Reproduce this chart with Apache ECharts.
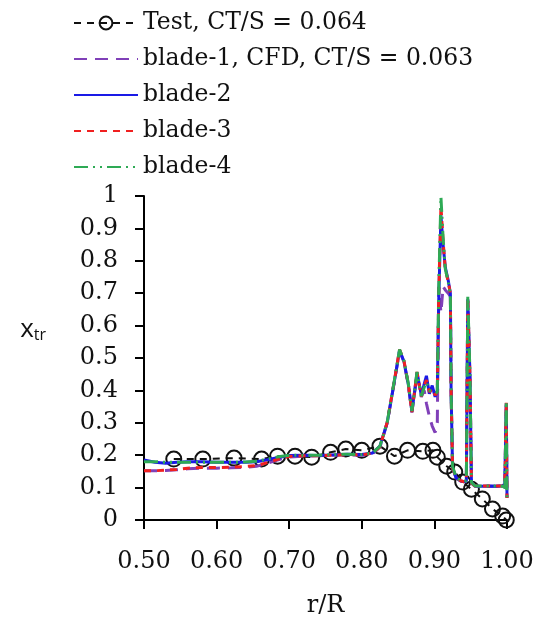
<!DOCTYPE html>
<html>
<head>
<meta charset="utf-8">
<script src="https://cdn.jsdelivr.net/npm/echarts@6/dist/echarts.min.js"></script>
<style>
  html, body { margin: 0; padding: 0; background: #fff; }
  #chart { width: 537px; height: 623px; }
</style>
</head>
<body>
<div id="chart"></div>
<script>
// test data (circles)
var rTest = [0.541, 0.581, 0.624, 0.662, 0.684, 0.708, 0.731, 0.757, 0.778, 0.800, 0.825, 0.845,
             0.863, 0.884, 0.898, 0.904, 0.917, 0.928, 0.939, 0.951, 0.966, 0.980, 0.994, 0.999];
var xtrTest = [0.188, 0.188, 0.191, 0.188, 0.197, 0.197, 0.194, 0.209, 0.219, 0.215, 0.228, 0.197,
               0.215, 0.212, 0.215, 0.194, 0.166, 0.148, 0.117, 0.095, 0.065, 0.034, 0.012, 0.000];

// CFD radial stations
var rCfd = [0.500, 0.515, 0.530, 0.545, 0.560, 0.580, 0.600, 0.620, 0.640, 0.655,
            0.670, 0.685, 0.700, 0.720, 0.740, 0.760, 0.780, 0.800, 0.815, 0.825,
            0.835, 0.845, 0.852, 0.858, 0.864, 0.869, 0.873, 0.876, 0.879, 0.882,
            0.886, 0.889, 0.893, 0.897, 0.901, 0.904, 0.906, 0.909, 0.912, 0.915,
            0.919, 0.922, 0.923, 0.925, 0.930, 0.936, 0.941, 0.944, 0.946, 0.949,
            0.951, 0.956, 0.965, 0.975, 0.985, 0.994, 0.997, 0.999, 1.000];

var blade1 = [0.152, 0.152, 0.153, 0.155, 0.158, 0.160, 0.160, 0.161, 0.163, 0.166,
              0.175, 0.186, 0.194, 0.197, 0.198, 0.200, 0.201, 0.200, 0.205, 0.225,
              0.300, 0.428, 0.522, 0.488, 0.418, 0.332, 0.398, 0.452, 0.418, 0.380,
              0.400, 0.360, 0.320, 0.290, 0.270, 0.300, 0.720, 0.640, 0.720, 0.710,
              0.700, 0.690, 0.400, 0.160, 0.130, 0.121, 0.118, 0.120, 0.682, 0.440,
              0.114, 0.104, 0.104, 0.104, 0.104, 0.105, 0.110, 0.355, 0.068];

var blade2 = [0.185, 0.178, 0.175, 0.178, 0.180, 0.180, 0.178, 0.178, 0.178, 0.180,
              0.186, 0.193, 0.199, 0.200, 0.199, 0.201, 0.203, 0.202, 0.207, 0.228,
              0.300, 0.430, 0.524, 0.490, 0.420, 0.335, 0.400, 0.455, 0.420, 0.385,
              0.420, 0.445, 0.390, 0.415, 0.380, 0.400, 0.680, 0.940, 0.850, 0.780,
              0.740, 0.700, 0.400, 0.160, 0.130, 0.120, 0.118, 0.120, 0.680, 0.440,
              0.115, 0.105, 0.104, 0.105, 0.104, 0.106, 0.110, 0.360, 0.070];

var blade3 = [0.152, 0.152, 0.154, 0.156, 0.160, 0.162, 0.162, 0.163, 0.165, 0.168,
              0.177, 0.188, 0.196, 0.198, 0.198, 0.200, 0.202, 0.201, 0.206, 0.226,
              0.302, 0.432, 0.526, 0.492, 0.420, 0.333, 0.402, 0.457, 0.418, 0.382,
              0.415, 0.432, 0.395, 0.405, 0.385, 0.395, 0.700, 0.970, 0.860, 0.775,
              0.735, 0.700, 0.400, 0.160, 0.131, 0.121, 0.118, 0.120, 0.685, 0.445,
              0.114, 0.105, 0.105, 0.105, 0.105, 0.105, 0.108, 0.362, 0.068];

var blade4 = [0.180, 0.180, 0.178, 0.178, 0.178, 0.178, 0.178, 0.178, 0.179, 0.181,
              0.188, 0.195, 0.200, 0.200, 0.200, 0.202, 0.203, 0.202, 0.207, 0.228,
              0.302, 0.433, 0.526, 0.492, 0.422, 0.336, 0.402, 0.457, 0.420, 0.383,
              0.410, 0.425, 0.400, 0.398, 0.392, 0.395, 0.720, 0.997, 0.870, 0.775,
              0.735, 0.695, 0.400, 0.165, 0.132, 0.122, 0.120, 0.121, 0.690, 0.450,
              0.116, 0.105, 0.105, 0.105, 0.105, 0.104, 0.100, 0.365, 0.065];

var legendNames = ['Test, CT/S = 0.064', 'blade-1, CFD, CT/S = 0.063', 'blade-2', 'blade-3', 'blade-4'];

function pairs(xs, ys) {
    var out = [];
    for (var i = 0; i < xs.length; i++) out.push([xs[i], ys[i]]);
    return out;
}

var serif = 'DejaVu Serif';
var chart = echarts.init(document.getElementById('chart'), null, { renderer: 'canvas' });

// legend entries: no dot on the CFD lines
var legendData = legendNames.map(function (n, i) {
    if (i === 0) return { name: n };
    return { name: n, itemStyle: { opacity: 0 } };
});

var option = {
    animation: false,
    backgroundColor: '#fff',
    legend: {
        orient: 'vertical',
        left: 68,
        top: 5,
        itemWidth: 64,
        itemHeight: 16,
        itemGap: 10,
        textStyle: { fontFamily: serif, fontSize: 23.5, color: '#111', lineHeight: 26 },
        data: legendData
    },
    grid: { left: 144, right: 30, top: 196, bottom: 102 },
    xAxis: {
        type: 'value',
        min: 0.5, max: 1.0, interval: 0.1,
        name: 'r/R',
        nameLocation: 'middle',
        nameGap: 74,
        nameTextStyle: { fontFamily: serif, fontSize: 24, color: '#111' },
        axisLine: { lineStyle: { color: '#000', width: 2 } },
        axisTick: { show: true, inside: false, length: 9, lineStyle: { color: '#000', width: 2 } },
        axisLabel: {
            margin: 30, fontFamily: serif, fontSize: 24, color: '#111',
            formatter: function (v) { return v.toFixed(2); }
        },
        splitLine: { show: false }
    },
    yAxis: {
        type: 'value',
        min: 0, max: 1, interval: 0.1,
        name: '{x|x}{s|tr}',
        nameLocation: 'middle',
        nameRotate: 0,
        nameGap: 98,
        nameTextStyle: {
            padding: [0, 0, 60, 0],
            rich: {
                x: { fontFamily: 'Open Sans', fontSize: 26, color: '#111', verticalAlign: 'bottom', lineHeight: 30 },
                s: { fontFamily: 'Open Sans', fontSize: 16, color: '#111', verticalAlign: 'bottom', lineHeight: 22 }
            }
        },
        axisLine: { show: true, lineStyle: { color: '#000', width: 2 } },
        axisTick: { show: true, inside: false, length: 9, lineStyle: { color: '#000', width: 2 } },
        axisLabel: {
            margin: 26, fontFamily: serif, fontSize: 24, color: '#111',
            formatter: function (v) {
                if (v === 0) return '0';
                if (Math.abs(v - 1) < 1e-9) return '1';
                return v.toFixed(1);
            }
        },
        splitLine: { show: false }
    },
    series: [
        {
            name: legendNames[0],
            type: 'line',
            z: 1,
            data: pairs(rTest, xtrTest),
            symbol: 'circle',
            symbolSize: 15,
            itemStyle: { color: 'rgba(255,255,255,0)', borderColor: '#111', borderWidth: 2 },
            lineStyle: { color: '#111', width: 2, type: [7, 6] }
        },
        {
            name: legendNames[1],
            type: 'line',
            z: 2,
            data: pairs(rCfd, blade1),
            showSymbol: false,
            symbol: 'none',
            itemStyle: { color: '#8040b8' },
            lineStyle: { color: '#8040b8', width: 3, type: [13, 8] }
        },
        {
            name: legendNames[2],
            type: 'line',
            z: 3,
            data: pairs(rCfd, blade2),
            showSymbol: false,
            symbol: 'none',
            itemStyle: { color: '#1a1ae6' },
            lineStyle: { color: '#1a1ae6', width: 3, type: 'solid' }
        },
        {
            name: legendNames[3],
            type: 'line',
            z: 4,
            data: pairs(rCfd, blade3),
            showSymbol: false,
            symbol: 'none',
            itemStyle: { color: '#f02020' },
            lineStyle: { color: '#f02020', width: 3, type: [7, 6] }
        },
        {
            name: legendNames[4],
            type: 'line',
            z: 5,
            data: pairs(rCfd, blade4),
            showSymbol: false,
            symbol: 'none',
            itemStyle: { color: '#2eaa55' },
            lineStyle: { color: '#2eaa55', width: 3, type: [14, 5, 2, 5, 2, 5] }
        }
    ]
};

chart.setOption(option);
</script>
</body>
</html>
